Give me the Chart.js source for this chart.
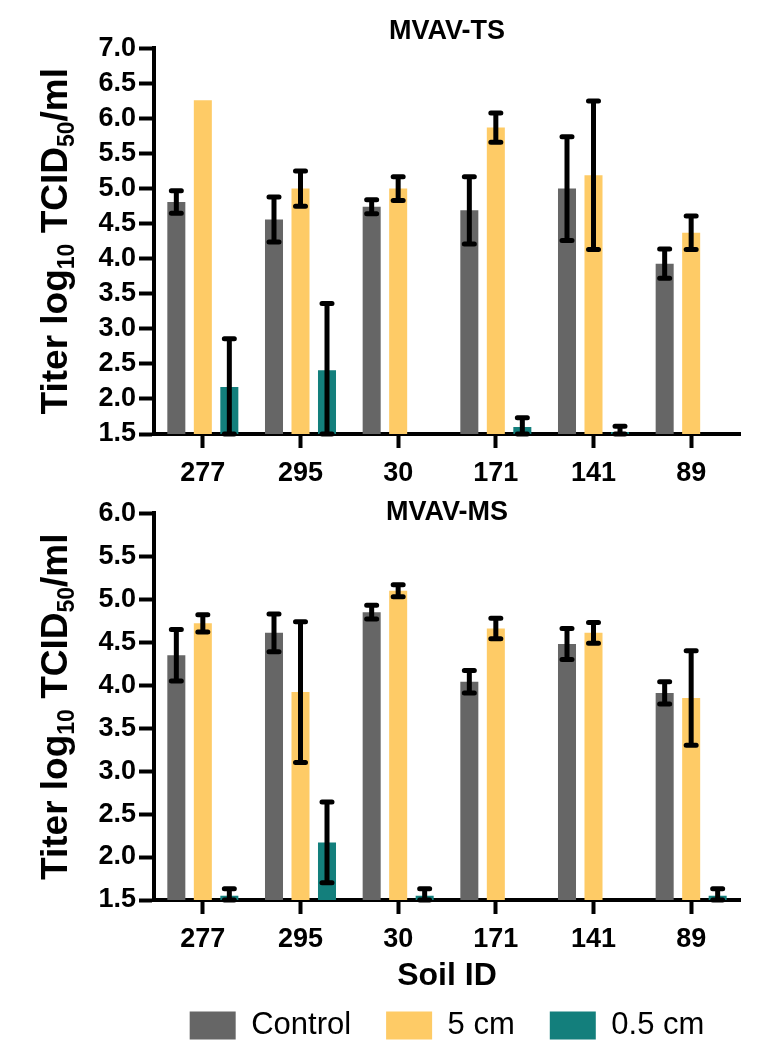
<!DOCTYPE html>
<html>
<head>
<meta charset="utf-8">
<title>MVAV titers by soil</title>
<script src="https://cdn.jsdelivr.net/npm/chart.js@4.4.0/dist/chart.umd.min.js"></script>
<style>
  html, body { margin: 0; padding: 0; background: #fff; }
  #wrap { position: relative; width: 759px; height: 1062px; }
  #tsBox { position: absolute; left: 0; top: 0; width: 759px; height: 490px; }
  #msBox { position: absolute; left: 0; top: 490px; width: 759px; height: 572px; }
</style>
</head>
<body>
<div id="wrap">
  <div id="tsBox"><canvas id="tsChart"></canvas></div>
  <div id="msBox"><canvas id="msChart"></canvas></div>
</div>
<script>
// Soil IDs on the x axis
const soilIds = ['277', '295', '30', '171', '141', '89'];
const seriesNames = ['Control', '5 cm', '0.5 cm'];

// MVAV-TS titers (log10 TCID50/ml) and error bar half-widths
const tsControl = [4.81, 4.56, 4.74, 4.69, 5.00, 3.93];
const tsControlErr = [0.16, 0.32, 0.10, 0.48, 0.74, 0.21];
const ts5cm = [6.26, 5.00, 5.00, 5.87, 5.19, 4.37];
const ts5cmErr = [0, 0.25, 0.17, 0.21, 1.06, 0.24];
const ts05cm = [2.17, 2.41, null, 1.60, 1.53, null];
const ts05cmErr = [0.69, 0.95, null, 0.13, 0.08, null];

// MVAV-MS titers
const msControl = [4.35, 4.61, 4.85, 4.04, 4.48, 3.91];
const msControlErr = [0.30, 0.22, 0.08, 0.13, 0.18, 0.13];
const ms5cm = [4.72, 3.92, 5.10, 4.66, 4.61, 3.85];
const ms5cmErr = [0.10, 0.82, 0.07, 0.12, 0.12, 0.55];
const ms05cm = [1.55, 2.17, 1.55, null, null, 1.55];
const ms05cmErr = [0.08, 0.47, 0.08, null, null, 0.08];

const colors = ['#666666', '#FECB66', '#137F7C'];
const FONT = '"Liberation Sans", Arial, Helvetica, sans-serif';

Chart.defaults.font.family = FONT;
Chart.defaults.color = '#000';

// draws the black error bars with round caps
const errorBarPlugin = {
  id: 'errorBars',
  afterDatasetsDraw(chart) {
    const ctx = chart.ctx;
    const area = chart.chartArea;
    const yScale = chart.scales.y;
    ctx.save();
    ctx.strokeStyle = '#000';
    ctx.lineWidth = 5;
    ctx.lineCap = 'round';
    chart.data.datasets.forEach((ds, i) => {
      const meta = chart.getDatasetMeta(i);
      meta.data.forEach((bar, j) => {
        const v = ds.data[j];
        const e = ds.errors[j];
        if (v == null || !e) return;
        const top = Math.max(yScale.getPixelForValue(v + e), area.top);
        const bottom = Math.min(yScale.getPixelForValue(v - e), area.bottom);
        ctx.beginPath();
        ctx.moveTo(bar.x, top);
        ctx.lineTo(bar.x, bottom);
        ctx.moveTo(bar.x - 5, top);
        ctx.lineTo(bar.x + 5, top);
        ctx.moveTo(bar.x - 5, bottom);
        ctx.lineTo(bar.x + 5, bottom);
        ctx.stroke();
      });
    });
    ctx.restore();
  }
};

// y axis title with subscripts
const yTitlePlugin = {
  id: 'yTitle',
  afterDraw(chart) {
    const ctx = chart.ctx;
    const area = chart.chartArea;
    const parts = [['Titer log', false], ['10', true], [' TCID', false], ['50', true], ['/ml', false]];
    const big = 'bold 37px ' + FONT;
    const small = 'bold 23px ' + FONT;
    ctx.save();
    let total = 0;
    parts.forEach(p => {
      ctx.font = p[1] ? small : big;
      total += ctx.measureText(p[0]).width;
    });
    ctx.translate(67, (area.top + area.bottom) / 2);
    ctx.rotate(-Math.PI / 2);
    ctx.fillStyle = '#000';
    ctx.textBaseline = 'alphabetic';
    let x = -total / 2;
    parts.forEach(p => {
      ctx.font = p[1] ? small : big;
      ctx.fillText(p[0], x, p[1] ? 7 : 0);
      x += ctx.measureText(p[0]).width;
    });
    ctx.restore();
  }
};

function makeDatasets(values, errors) {
  return values.map((vals, i) => ({
    label: seriesNames[i],
    data: vals,
    errors: errors[i],
    backgroundColor: colors[i],
    borderWidth: 0,
    categoryPercentage: 0.814,
    barPercentage: 0.68
  }));
}

function makeOptions(title, yMax, titlePad, isBottom) {
  return {
    responsive: true,
    maintainAspectRatio: false,
    animation: false,
    layout: { padding: { left: 0, right: 19, top: 0, bottom: isBottom ? 11 : 0 } },
    plugins: {
      title: {
        display: true,
        text: title,
        fullSize: false,
        color: '#000',
        font: { size: 27, weight: 'bold' },
        padding: titlePad
      },
      legend: {
        display: isBottom,
        position: 'bottom',
        fullSize: false,
        labels: {
          boxWidth: 46,
          boxHeight: 28,
          padding: 35,
          color: '#000',
          font: { size: 31 }
        }
      },
      tooltip: { enabled: false }
    },
    scales: {
      x: {
        offset: true,
        grid: { offset: false, drawOnChartArea: false, tickLength: 14, tickWidth: 4, tickColor: '#000' },
        border: { display: true, width: 4, color: '#000' },
        ticks: { padding: 9, color: '#000', font: { size: 27, weight: 'bold' }, maxRotation: 0 },
        title: {
          display: isBottom,
          text: 'Soil ID',
          color: '#000',
          font: { size: 32, weight: 'bold' },
          padding: { top: 0, bottom: -20 }
        },
        afterFit(scale) { scale.height = isBottom ? 75 : 56; }
      },
      y: {
        min: 1.5,
        max: yMax,
        grid: { drawOnChartArea: false, tickLength: 15, tickWidth: 4, tickColor: '#000' },
        border: { display: true, width: 4, color: '#000' },
        ticks: {
          stepSize: 0.5,
          autoSkip: false,
          maxTicksLimit: 20,
          padding: 3,
          color: '#000',
          font: { size: 27, weight: 'bold' },
          callback: v => Number(v).toFixed(1)
        },
        afterFit(scale) { scale.width = 154; }
      }
    }
  };
}

new Chart(document.getElementById('tsChart'), {
  type: 'bar',
  data: {
    labels: soilIds,
    datasets: makeDatasets([tsControl, ts5cm, ts05cm], [tsControlErr, ts5cmErr, ts05cmErr])
  },
  options: makeOptions('MVAV-TS', 7.0, { top: 15, bottom: 1 }, false),
  plugins: [errorBarPlugin, yTitlePlugin]
});

new Chart(document.getElementById('msChart'), {
  type: 'bar',
  data: {
    labels: soilIds,
    datasets: makeDatasets([msControl, ms5cm, ms05cm], [msControlErr, ms5cmErr, ms05cmErr])
  },
  options: makeOptions('MVAV-MS', 6.0, { top: 6, bottom: -15 }, true),
  plugins: [errorBarPlugin, yTitlePlugin]
});
</script>
</body>
</html>
